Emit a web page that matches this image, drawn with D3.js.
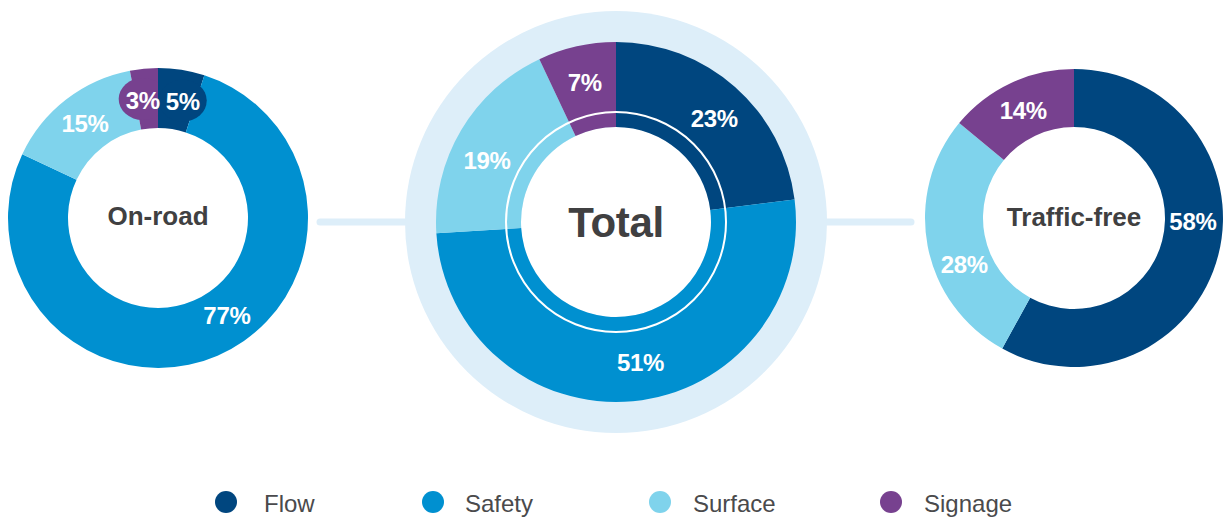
<!DOCTYPE html>
<html>
<head>
<meta charset="utf-8">
<script src="https://cdn.jsdelivr.net/npm/d3@7"></script>
<style>
  html, body { margin: 0; padding: 0; background: #ffffff; }
  svg { display: block; }
  text { font-family: "Liberation Sans", Arial, Helvetica, sans-serif; }
</style>
</head>
<body>
<script>
// ---------- data ----------
const categories = ["Flow", "Safety", "Surface", "Signage"];
const categoryColors = ["#00467f", "#0090d0", "#7fd3ec", "#77418f"];
const chartNames = ["On-road", "Total", "Traffic-free"];
const onRoadValues = [5, 77, 15, 3];
const totalValues = [23, 51, 19, 7];
const trafficFreeValues = [58, 0, 28, 14];

// ---------- layout ----------
const W = 1225, H = 518;
const deg = Math.PI / 180;
const svg = d3.select("body").append("svg").attr("width", W).attr("height", H);

const color = d3.scaleOrdinal().domain(categories).range(categoryColors);
const cx = d3.scalePoint().domain(chartNames).range([158, 1074]);

const charts = [
  { name: "On-road", values: onRoadValues, cy: 218, inner: 90, outer: 150, labelR: 119, titleSize: 26, titleDy: 7 },
  { name: "Total", values: totalValues, cy: 222, inner: 95, outer: 180, labelR: 143, titleSize: 42, titleDy: 15, halo: 211, ringLine: 110 },
  { name: "Traffic-free", values: trafficFreeValues, cy: 218, inner: 91, outer: 149, labelR: 119, titleSize: 26, titleDy: 8 }
];

// label angle nudges (layout, degrees)
const labelNudge = {
  "On-road|Safety": -12, "On-road|Flow": 3, "On-road|Signage": -2,
  "Total|Safety": -4.5, "Total|Flow": 2, "Total|Surface": -5,
  "Traffic-free|Flow": -12.5, "Traffic-free|Surface": -12
};

const pie = d3.pie().sort(null).value(d => d.value);

// connectors
const totalHalo = charts[1].halo;
const connY = charts[1].cy;
svg.append("line")
  .attr("x1", 320).attr("x2", cx("Total") - totalHalo + 4)
  .attr("y1", connY).attr("y2", connY)
  .attr("stroke", "#ddeef9").attr("stroke-width", 7).attr("stroke-linecap", "round");
svg.append("line")
  .attr("x1", cx("Total") + totalHalo - 4).attr("x2", 911)
  .attr("y1", connY).attr("y2", connY)
  .attr("stroke", "#ddeef9").attr("stroke-width", 7).attr("stroke-linecap", "round");

const defs = svg.append("defs");

charts.forEach((c, ci) => {
  const g = svg.append("g").attr("transform", `translate(${cx(c.name)},${c.cy})`);
  if (c.halo) {
    g.append("circle").attr("r", c.halo).attr("fill", "#ddeef9");
    g.append("circle").attr("r", c.inner).attr("fill", "#ffffff");
  }
  const data = categories.map((k, i) => ({ key: k, value: c.values[i] }));
  const arcs = pie(data);
  const arc = d3.arc().innerRadius(c.inner).outerRadius(c.outer);
  g.selectAll("path.seg").data(arcs).join("path")
    .attr("class", "seg")
    .attr("d", arc)
    .attr("fill", d => color(d.data.key));

  if (c.ringLine) {
    g.append("circle").attr("r", c.ringLine).attr("fill", "none")
      .attr("stroke", "#ffffff").attr("stroke-width", 2);
  }

  const shown = arcs.filter(d => d.data.value > 0);
  const pos = d => {
    const a = (d.startAngle + d.endAngle) / 2 + (labelNudge[c.name + "|" + d.data.key] || 0) * deg;
    return [c.labelR * Math.sin(a), -c.labelR * Math.cos(a)];
  };

  // bubbles behind labels of thin segments
  const small = shown.filter(d => d.data.value <= 5);
  small.forEach((d, si) => {
    const idx = arcs.indexOf(d);
    const prev = arcs[(idx - 1 + arcs.length) % arcs.length];
    const next = arcs[(idx + 1) % arcs.length];
    const prevSmall = prev.data.value > 0 && prev.data.value <= 5;
    const nextSmall = next.data.value > 0 && next.data.value <= 5;
    const a0 = prevSmall ? d.startAngle : d.startAngle - Math.PI / 2;
    const a1 = nextSmall ? d.endAngle : d.endAngle + Math.PI / 2;
    const id = `clip-${ci}-${si}`;
    defs.append("clipPath").attr("id", id)
      .append("path")
      .attr("d", d3.arc().innerRadius(0).outerRadius(c.outer + 60).startAngle(a0).endAngle(a1)());
    const p = pos(d);
    g.append("ellipse")
      .attr("cx", p[0]).attr("cy", p[1] - 1)
      .attr("rx", 24).attr("ry", 21)
      .attr("fill", color(d.data.key))
      .attr("clip-path", `url(#${id})`);
  });

  g.selectAll("text.pct").data(shown).join("text")
    .attr("class", "pct")
    .attr("x", d => pos(d)[0])
    .attr("y", d => pos(d)[1])
    .attr("text-anchor", "middle")
    .attr("dominant-baseline", "central")
    .attr("fill", "#ffffff")
    .attr("font-weight", "bold")
    .attr("font-size", 24)
    .attr("letter-spacing", -0.3)
    .text(d => d.data.value + "%");

  g.append("text")
    .attr("x", 0).attr("y", c.titleDy)
    .attr("text-anchor", "middle")
    .attr("fill", "#404041")
    .attr("font-weight", "bold")
    .attr("font-size", c.titleSize)
    .attr("letter-spacing", c.name === "Total" ? -0.3 : 0)
    .text(c.name);
});

// legend
const legendPos = [226, 433, 660, 891];
const legendTextGap = [38, 32, 33, 33];
const lg = svg.append("g");
const items = lg.selectAll("g").data(categories).join("g")
  .attr("transform", (d, i) => `translate(${legendPos[i]},502)`);
items.append("circle").attr("r", 11).attr("fill", d => color(d));
items.append("text")
  .attr("x", (d, i) => legendTextGap[i]).attr("y", 10)
  .attr("fill", "#4a4a4c")
  .attr("font-size", 24)
  .text(d => d);
</script>
</body>
</html>
